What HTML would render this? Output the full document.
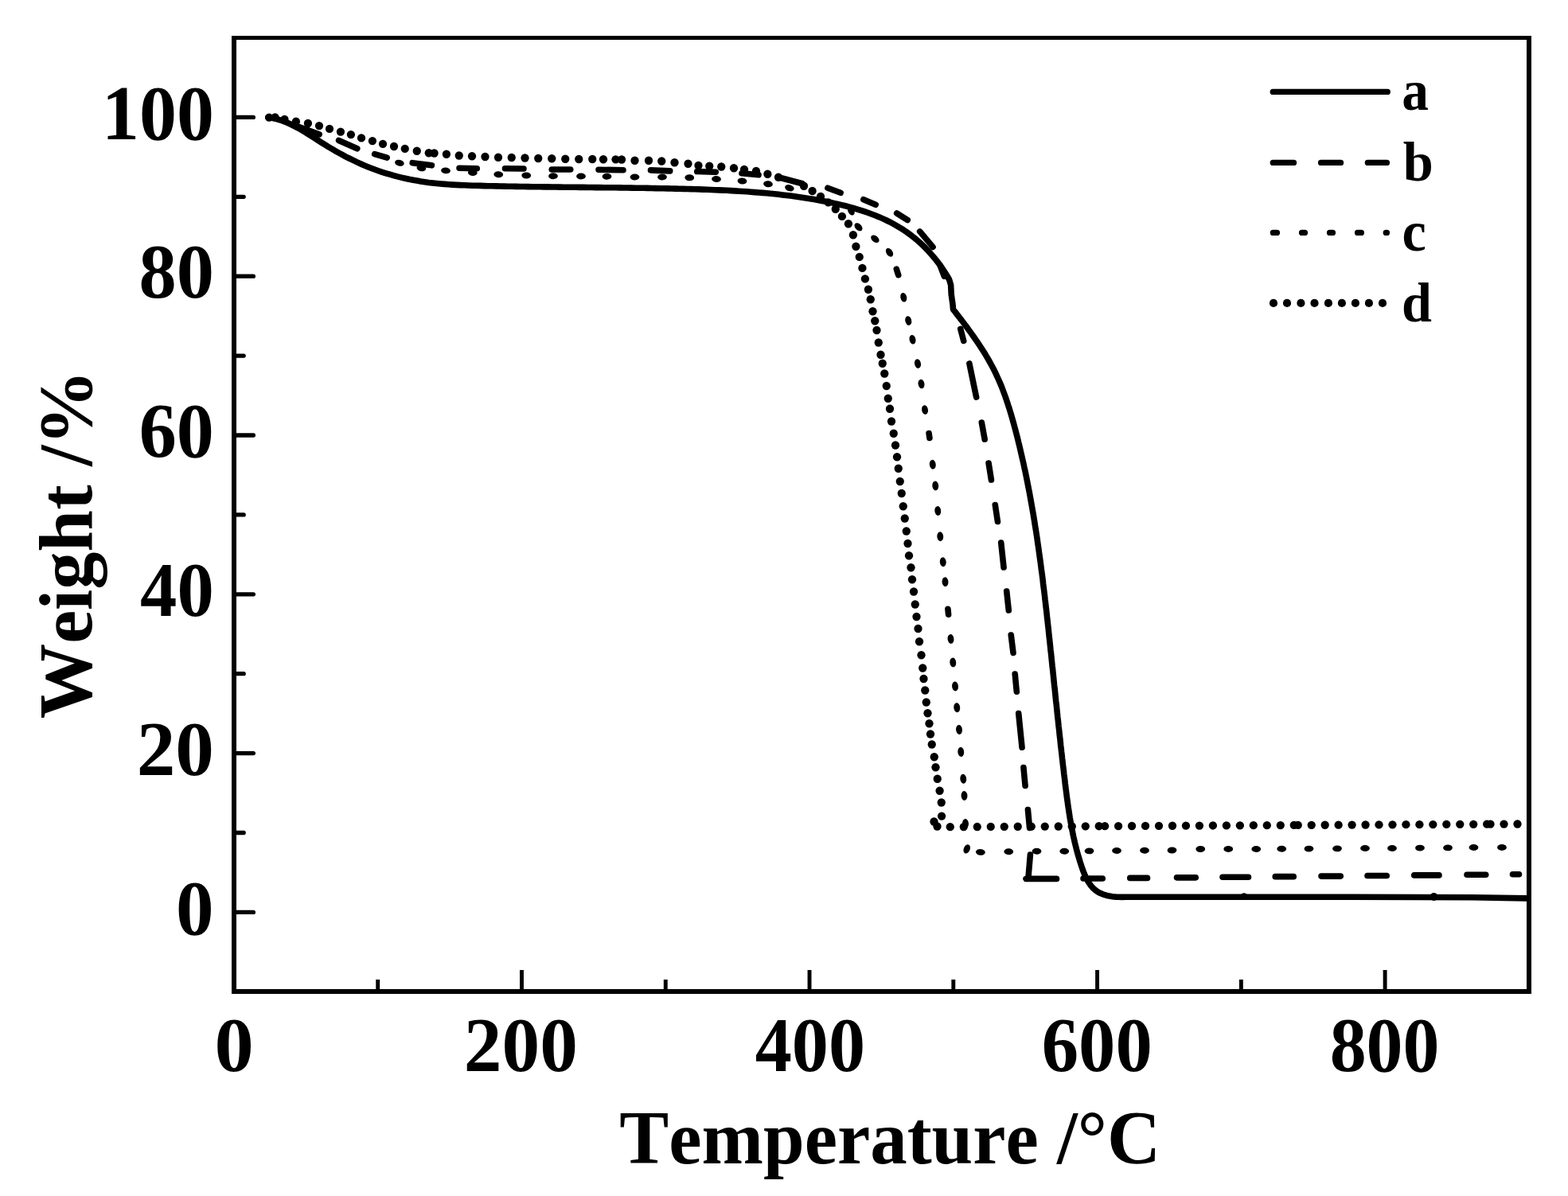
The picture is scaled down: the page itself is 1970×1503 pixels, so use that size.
<!DOCTYPE html>
<html lang="en">
<head>
<meta charset="utf-8">
<title>TG curves</title>
<style>
html,body{margin:0;padding:0;background:#fff;}
body{width:1970px;height:1503px;overflow:hidden;}
svg{display:block;}
text{font-family:"Liberation Serif",serif;font-weight:bold;fill:#000;font-kerning:none;}
</style>
</head>
<body>
<svg width="1970" height="1503" viewBox="0 0 1970 1503">
<rect x="0" y="0" width="1970" height="1503" fill="#fff"/>
<g shape-rendering="crispEdges"><rect x="291" y="45" width="1632.6" height="4.9"/><rect x="291" y="1243" width="1633" height="5.7"/><rect x="291" y="45" width="5.9" height="1203.7"/><rect x="1917.9" y="46.6" width="6.1" height="1202.1"/></g>
<path d="M474.72 1245.9 V1231.0 M655.49 1245.9 V1219.0 M836.26 1245.9 V1231.0 M1017.03 1245.9 V1219.0 M1197.80 1245.9 V1231.0 M1378.57 1245.9 V1219.0 M1559.34 1245.9 V1231.0 M1740.11 1245.9 V1219.0" fill="none" stroke="#000" stroke-width="4.9" stroke-linecap="butt"/>
<path d="M293.95 1146.40 H318.4 M293.95 1046.50 H306.2 M293.95 946.60 H318.4 M293.95 846.70 H306.2 M293.95 746.80 H318.4 M293.95 646.90 H306.2 M293.95 547.00 H318.4 M293.95 447.10 H306.2 M293.95 347.20 H318.4 M293.95 247.30 H306.2 M293.95 147.40 H318.4" fill="none" stroke="#000" stroke-width="5.3" stroke-linecap="round"/>
<path d="M336.9 147.5 L341.9 148.3 L346.9 149.4 L351.7 150.8 L356.4 152.5 L361.0 154.3 L365.5 156.3 L369.9 158.5 L374.3 160.8 L378.6 163.3 L382.9 165.8 L387.1 168.4 L391.3 171.1 L395.6 173.8 L399.8 176.5 L404.0 179.2 L408.2 181.8 L412.5 184.5 L416.8 187.0 L421.1 189.6 L425.5 192.0 L429.9 194.4 L434.3 196.8 L438.7 199.0 L443.2 201.2 L447.7 203.4 L452.3 205.5 L456.8 207.5 L461.5 209.4 L466.1 211.2 L470.8 213.0 L475.5 214.7 L480.2 216.3 L485.0 217.8 L489.8 219.2 L494.6 220.6 L499.4 221.9 L504.3 223.1 L509.2 224.2 L514.0 225.3 L519.0 226.2 L523.9 227.1 L528.8 228.0 L533.8 228.7 L538.7 229.4 L543.7 230.0 L548.6 230.5 L553.6 231.0 L558.6 231.4 L563.5 231.8 L568.5 232.1 L573.5 232.4 L578.5 232.6 L583.5 232.8 L588.5 233.0 L593.5 233.2 L598.5 233.3 L603.5 233.4 L608.5 233.6 L613.5 233.7 L618.5 233.8 L623.5 233.9 L628.5 234.0 L633.5 234.1 L638.5 234.2 L643.5 234.3 L648.5 234.4 L653.5 234.5 L658.5 234.5 L663.5 234.6 L668.5 234.7 L673.5 234.7 L678.5 234.8 L683.5 234.9 L688.5 234.9 L693.5 235.0 L698.5 235.0 L703.5 235.1 L708.5 235.2 L713.5 235.2 L718.5 235.3 L723.5 235.3 L728.5 235.4 L733.5 235.4 L738.5 235.5 L743.6 235.5 L748.6 235.6 L753.6 235.6 L758.6 235.7 L763.6 235.7 L768.6 235.8 L773.6 235.8 L778.6 235.9 L783.6 236.0 L788.6 236.0 L793.6 236.1 L798.6 236.2 L803.6 236.2 L808.6 236.3 L813.6 236.4 L818.6 236.5 L823.6 236.6 L828.6 236.7 L833.6 236.8 L838.6 236.9 L843.6 237.0 L848.6 237.1 L853.6 237.2 L858.6 237.4 L863.6 237.5 L868.6 237.6 L873.5 237.8 L878.5 237.9 L883.5 238.1 L888.5 238.3 L893.5 238.5 L898.5 238.7 L903.5 238.9 L908.5 239.1 L913.5 239.3 L918.5 239.6 L923.4 239.9 L928.4 240.2 L933.4 240.5 L938.4 240.8 L943.4 241.2 L948.3 241.6 L953.3 242.0 L958.3 242.4 L963.3 242.8 L968.2 243.3 L973.2 243.8 L978.2 244.3 L983.1 244.9 L988.1 245.5 L993.1 246.1 L998.0 246.8 L1003.0 247.5 L1007.9 248.2 L1012.9 249.0 L1017.8 249.8 L1022.8 250.6 L1027.7 251.5 L1032.7 252.4 L1037.6 253.3 L1042.5 254.3 L1047.5 255.4 L1052.4 256.5 L1057.3 257.6 L1062.2 258.8 L1067.1 260.1 L1071.9 261.4 L1076.7 262.8 L1081.5 264.3 L1086.3 265.9 L1091.0 267.5 L1095.6 269.2 L1100.3 271.0 L1104.9 272.9 L1109.4 274.9 L1113.9 277.0 L1118.3 279.2 L1122.7 281.5 L1127.0 284.0 L1131.2 286.5 L1135.4 289.1 L1139.5 291.9 L1143.5 294.8 L1147.5 297.9 L1151.3 301.0 L1155.1 304.3 L1158.8 307.8 L1162.4 311.3 L1165.9 314.9 L1169.3 318.7 L1172.6 322.5 L1175.8 326.4 L1178.9 330.4 L1181.9 334.4 L1184.7 338.6 L1187.5 342.8 L1190.1 347.0 L1192.5 351.2 L1194.6 358.0 L1195.2 370.0 L1197.0 382.5 L1197.5 388.8 L1200.0 391.9 L1202.4 395.1 L1204.8 398.2 L1207.3 401.4 L1209.7 404.5 L1212.1 407.7 L1214.5 410.9 L1216.9 414.2 L1219.2 417.4 L1221.6 420.7 L1223.9 424.0 L1226.2 427.3 L1228.5 430.6 L1230.7 434.0 L1232.9 437.3 L1235.1 440.7 L1237.2 444.1 L1239.3 447.6 L1241.3 451.0 L1243.3 454.5 L1245.2 458.0 L1247.1 461.6 L1249.0 465.1 L1250.7 468.7 L1252.4 472.3 L1254.1 476.0 L1255.7 479.6 L1257.3 483.3 L1258.8 487.0 L1260.2 490.8 L1261.6 494.5 L1263.0 498.3 L1264.3 502.1 L1265.6 505.9 L1266.8 509.7 L1268.1 513.5 L1269.2 517.3 L1270.4 521.2 L1271.5 525.0 L1272.6 528.9 L1273.7 532.8 L1274.7 536.6 L1275.8 540.5 L1276.8 544.4 L1277.8 548.3 L1278.8 552.2 L1279.7 556.1 L1280.7 560.0 L1281.6 563.9 L1282.5 567.8 L1283.4 571.7 L1284.3 575.6 L1285.2 579.5 L1286.1 583.4 L1286.9 587.3 L1287.8 591.2 L1288.6 595.1 L1289.4 599.0 L1290.2 603.0 L1291.0 606.9 L1291.7 610.8 L1292.5 614.7 L1293.3 618.7 L1294.0 622.6 L1294.7 626.5 L1295.4 630.5 L1296.1 634.4 L1296.8 638.4 L1297.5 642.3 L1298.2 646.2 L1298.8 650.2 L1299.5 654.1 L1300.1 658.1 L1300.7 662.0 L1301.4 666.0 L1302.0 670.0 L1302.6 673.9 L1303.2 677.9 L1303.7 681.8 L1304.3 685.8 L1304.9 689.8 L1305.4 693.7 L1306.0 697.7 L1306.5 701.7 L1307.1 705.6 L1307.6 709.6 L1308.1 713.6 L1308.6 717.5 L1309.2 721.5 L1309.7 725.5 L1310.2 729.5 L1310.6 733.5 L1311.1 737.4 L1311.6 741.4 L1312.1 745.4 L1312.6 749.4 L1313.0 753.4 L1313.5 757.4 L1313.9 761.3 L1314.4 765.3 L1314.9 769.3 L1315.3 773.3 L1315.7 777.3 L1316.2 781.3 L1316.6 785.3 L1317.1 789.3 L1317.5 793.3 L1317.9 797.3 L1318.3 801.3 L1318.8 805.3 L1319.2 809.2 L1319.6 813.2 L1320.0 817.2 L1320.5 821.2 L1320.9 825.2 L1321.3 829.2 L1321.7 833.2 L1322.1 837.2 L1322.6 841.2 L1323.0 845.2 L1323.4 849.2 L1323.8 853.2 L1324.2 857.2 L1324.6 861.2 L1325.1 865.2 L1325.5 869.2 L1325.9 873.2 L1326.3 877.2 L1326.7 881.2 L1327.2 885.2 L1327.6 889.2 L1328.0 893.2 L1328.4 897.2 L1328.8 901.2 L1329.3 905.1 L1329.7 909.1 L1330.1 913.1 L1330.6 917.1 L1331.0 921.1 L1331.4 925.1 L1331.9 929.0 L1332.3 933.0 L1332.7 937.0 L1333.2 941.0 L1333.6 944.9 L1334.1 948.9 L1334.5 952.9 L1335.0 956.8 L1335.4 960.8 L1335.9 964.7 L1336.4 968.7 L1336.8 972.6 L1337.3 976.6 L1337.8 980.5 L1338.2 984.5 L1338.7 988.4 L1339.2 992.4 L1339.7 996.3 L1340.2 1000.2 L1340.7 1004.2 L1341.3 1008.1 L1341.8 1012.0 L1342.4 1016.0 L1343.0 1019.9 L1343.6 1023.8 L1344.2 1027.8 L1344.9 1031.7 L1345.6 1035.6 L1346.3 1039.6 L1347.1 1043.5 L1347.9 1047.5 L1348.7 1051.5 L1349.6 1055.4 L1350.5 1059.4 L1351.5 1063.4 L1352.5 1067.4 L1353.6 1071.4 L1354.7 1075.4 L1355.9 1079.4 L1357.1 1083.4 L1358.4 1087.4 L1359.8 1091.5 L1361.2 1095.4 L1362.8 1099.3 L1364.5 1103.1 L1366.4 1106.7 L1368.5 1110.1 L1370.8 1113.2 L1373.4 1116.1 L1376.2 1118.6 L1379.3 1120.8 L1382.6 1122.6 L1386.2 1124.1 L1390.0 1125.2 L1393.9 1126.1 L1397.8 1126.7 L1401.9 1127.1 L1405.9 1127.3 L1409.9 1127.4 L1413.9 1127.3 L1418.0 1127.2 L1422.0 1127.2 L1426.0 1127.2 L1430.0 1127.2 L1434.0 1127.2 L1438.0 1127.2 L1442.0 1127.3 L1446.0 1127.3 L1450.0 1127.2 L1700.0 1127.3 L1850.0 1127.8 L1917.5 1128.9" fill="none" stroke="#000" stroke-width="7.6" stroke-linejoin="round" stroke-linecap="round"/>
<circle cx="1563" cy="1126.5" r="4.3"/><circle cx="1801.5" cy="1127" r="5"/>
<path d="M373.87 158.70 L401.13 168.90 M425.58 176.41 L448.77 186.69 M470.67 193.66 L486.18 198.19 M518.23 204.66 L542.42 207.84 M577.00 211.29 L599.25 211.71 M634.50 211.77 L658.00 211.98 M693.25 213.00 L716.75 213.00 M752.00 213.28 L783.00 213.72 M817.50 213.84 L841.75 214.91 M875.75 215.55 L899.25 216.20 M931.99 217.70 L953.01 219.80 M979.93 223.26 L1008.07 230.74 M1039.88 236.29 L1056.12 242.31 M1084.84 250.78 L1100.16 257.22 M1126.69 267.96 L1140.21 276.44 M1155.69 290.93 L1172.01 310.37 M1181.21 333.87 L1186.29 347.13 M1206.80 413.44 L1210.70 428.36 M1217.90 456.96 L1226.60 499.04 M1233.35 530.97 L1237.15 552.03 M1242.07 581.97 L1245.43 603.03 M1250.30 634.48 L1253.45 655.52 M1257.71 681.99 L1261.04 713.01 M1264.71 742.99 L1267.29 767.01 M1270.24 797.99 L1273.01 820.51 M1275.19 846.99 L1277.31 869.26 M1279.70 896.49 L1284.05 939.26 M1285.93 964.49 L1288.07 987.51 M1291.44 1017.59 L1293.56 1040.51 M1294.4 1074 L1291.9 1103.5 L1289 1104.4 L1327.5 1104.4 M1361.00 1103.98 H1385.25 M1419.75 1103.42 H1441.50 M1478.50 1102.84 H1502.25 M1536.00 1102.24 H1568.50 M1602.25 1101.65 H1625.25 M1660.00 1101.08 H1684.25 M1718.00 1100.52 H1742.25 M1776.75 1099.91 H1808.00 M1843.00 1099.30 H1866.75 M1900.50 1098.82 H1908.50" fill="none" stroke="#000" stroke-width="7.6" stroke-linejoin="round" stroke-linecap="round"/>
<path d="M1126.30 338.08 L1128.70 345.72 M1167.08 544.53 L1167.92 550.47 M1190.91 765.27 L1191.59 772.23" fill="none" stroke="#000" stroke-width="7.6" stroke-linecap="round"/>
<g><ellipse cx="501.90" cy="204.75" rx="5.9" ry="3.95" transform="rotate(13.3 501.90 204.75)"/><ellipse cx="529.40" cy="211.25" rx="5.9" ry="3.95" transform="rotate(9.4 529.40 211.25)"/><ellipse cx="560.00" cy="214.40" rx="5.9" ry="3.95" transform="rotate(5.1 560.00 214.40)"/><ellipse cx="593.75" cy="217.00" rx="5.9" ry="3.95" transform="rotate(4.2 593.75 217.00)"/><ellipse cx="626.25" cy="219.25" rx="5.9" ry="3.95" transform="rotate(3.0 626.25 219.25)"/><ellipse cx="661.25" cy="220.50" rx="5.9" ry="3.95" transform="rotate(1.7 661.25 220.50)"/><ellipse cx="695.00" cy="221.25" rx="5.9" ry="3.95" transform="rotate(0.8 695.00 221.25)"/><ellipse cx="730.00" cy="221.50" rx="5.9" ry="3.95" transform="rotate(0.4 730.00 221.50)"/><ellipse cx="762.50" cy="221.75" rx="5.9" ry="3.95" transform="rotate(0.8 762.50 221.75)"/><ellipse cx="797.50" cy="222.50" rx="5.9" ry="3.95" transform="rotate(0.6 797.50 222.50)"/><ellipse cx="832.00" cy="222.50" rx="5.9" ry="3.95" transform="rotate(0.6 832.00 222.50)"/><ellipse cx="866.25" cy="223.25" rx="5.9" ry="3.95" transform="rotate(2.1 866.25 223.25)"/><ellipse cx="900.00" cy="225.00" rx="5.9" ry="3.95" transform="rotate(3.7 900.00 225.00)"/><ellipse cx="932.50" cy="227.50" rx="5.9" ry="3.95" transform="rotate(5.5 932.50 227.50)"/><ellipse cx="965.00" cy="231.25" rx="5.9" ry="3.95" transform="rotate(8.4 965.00 231.25)"/><ellipse cx="991.90" cy="236.25" rx="5.9" ry="3.95" transform="rotate(17.9 991.90 236.25)"/><ellipse cx="1069.40" cy="265.00" rx="5.9" ry="3.95" transform="rotate(63.4 1069.40 265.00)"/><ellipse cx="1078.50" cy="285.25" rx="5.9" ry="3.95" transform="rotate(45.0 1078.50 285.25)"/><ellipse cx="1099.40" cy="300.25" rx="5.9" ry="3.95" transform="rotate(39.4 1099.40 300.25)"/><ellipse cx="1117.50" cy="317.25" rx="5.9" ry="3.95" transform="rotate(56.0 1117.50 317.25)"/><ellipse cx="1135.25" cy="373.75" rx="5.9" ry="3.95" transform="rotate(77.3 1135.25 373.75)"/><ellipse cx="1141.25" cy="403.00" rx="5.9" ry="3.95" transform="rotate(78.0 1141.25 403.00)"/><ellipse cx="1146.50" cy="426.75" rx="5.9" ry="3.95" transform="rotate(77.7 1146.50 426.75)"/><ellipse cx="1153.00" cy="457.00" rx="5.9" ry="3.95" transform="rotate(78.8 1153.00 457.00)"/><ellipse cx="1157.50" cy="482.50" rx="5.9" ry="3.95" transform="rotate(81.2 1157.50 482.50)"/><ellipse cx="1162.00" cy="515.00" rx="5.9" ry="3.95" transform="rotate(81.3 1162.00 515.00)"/><ellipse cx="1171.75" cy="583.75" rx="5.9" ry="3.95" transform="rotate(83.0 1171.75 583.75)"/><ellipse cx="1175.25" cy="610.50" rx="5.9" ry="3.95" transform="rotate(83.6 1175.25 610.50)"/><ellipse cx="1178.25" cy="642.00" rx="5.9" ry="3.95" transform="rotate(84.6 1178.25 642.00)"/><ellipse cx="1181.25" cy="674.25" rx="5.9" ry="3.95" transform="rotate(84.2 1181.25 674.25)"/><ellipse cx="1184.75" cy="706.25" rx="5.9" ry="3.95" transform="rotate(83.7 1184.75 706.25)"/><ellipse cx="1187.50" cy="731.25" rx="5.9" ry="3.95" transform="rotate(84.1 1187.50 731.25)"/><ellipse cx="1194.50" cy="803.00" rx="5.9" ry="3.95" transform="rotate(84.6 1194.50 803.00)"/><ellipse cx="1197.25" cy="832.50" rx="5.9" ry="3.95" transform="rotate(84.7 1197.25 832.50)"/><ellipse cx="1200.00" cy="862.50" rx="5.9" ry="3.95" transform="rotate(85.0 1200.00 862.50)"/><ellipse cx="1202.25" cy="889.25" rx="5.9" ry="3.95" transform="rotate(84.8 1202.25 889.25)"/><ellipse cx="1205.00" cy="917.00" rx="5.9" ry="3.95" transform="rotate(84.9 1205.00 917.00)"/><ellipse cx="1207.25" cy="945.00" rx="5.9" ry="3.95" transform="rotate(85.1 1207.25 945.00)"/><ellipse cx="1210.25" cy="978.75" rx="5.9" ry="3.95" transform="rotate(85.6 1210.25 978.75)"/><ellipse cx="1211.50" cy="1000.00" rx="5.9" ry="3.95" transform="rotate(87.2 1211.50 1000.00)"/><ellipse cx="1213.00" cy="1035.00" rx="5.9" ry="3.95" transform="rotate(84.3 1213.00 1035.00)"/><ellipse cx="1214.75" cy="1066.90" rx="5.9" ry="3.95" transform="rotate(-68.2 1214.75 1066.90)"/><ellipse cx="1231.90" cy="1070.90" rx="5.9" ry="3.95" transform="rotate(3.7 1231.90 1070.90)"/><ellipse cx="1267.25" cy="1070.25" rx="5.9" ry="3.95" transform="rotate(-0.9 1267.25 1070.25)"/><ellipse cx="1302.50" cy="1069.75" rx="5.9" ry="3.95" transform="rotate(-0.4 1302.50 1069.75)"/><ellipse cx="1337.25" cy="1069.75" rx="5.9" ry="3.95" transform="rotate(-0.3 1337.25 1069.75)"/><ellipse cx="1368.50" cy="1069.40" rx="5.9" ry="3.95" transform="rotate(-0.7 1368.50 1069.40)"/><ellipse cx="1403.00" cy="1069.00" rx="5.9" ry="3.95" transform="rotate(-0.5 1403.00 1069.00)"/><ellipse cx="1438.00" cy="1068.75" rx="5.9" ry="3.95" transform="rotate(-0.4 1438.00 1068.75)"/><ellipse cx="1472.50" cy="1068.50" rx="5.9" ry="3.95" transform="rotate(-1.4 1472.50 1068.50)"/><ellipse cx="1508.25" cy="1067.00" rx="5.9" ry="3.95" transform="rotate(-1.2 1508.25 1067.00)"/><ellipse cx="1543.25" cy="1067.00" rx="5.9" ry="3.95" transform="rotate(0.0 1543.25 1067.00)"/><ellipse cx="1578.25" cy="1067.00" rx="5.9" ry="3.95" transform="rotate(-0.2 1578.25 1067.00)"/><ellipse cx="1610.25" cy="1066.80" rx="5.9" ry="3.95" transform="rotate(-0.3 1610.25 1066.80)"/><ellipse cx="1644.50" cy="1066.60" rx="5.9" ry="3.95" transform="rotate(-0.3 1644.50 1066.60)"/><ellipse cx="1680.00" cy="1066.40" rx="5.9" ry="3.95" transform="rotate(-0.5 1680.00 1066.40)"/><ellipse cx="1715.00" cy="1066.00" rx="5.9" ry="3.95" transform="rotate(-0.3 1715.00 1066.00)"/><ellipse cx="1749.00" cy="1066.00" rx="5.9" ry="3.95" transform="rotate(-0.3 1749.00 1066.00)"/><ellipse cx="1784.00" cy="1065.60" rx="5.9" ry="3.95" transform="rotate(-0.5 1784.00 1065.60)"/><ellipse cx="1819.00" cy="1065.40" rx="5.9" ry="3.95" transform="rotate(-0.5 1819.00 1065.40)"/><ellipse cx="1851.50" cy="1065.00" rx="5.9" ry="3.95" transform="rotate(-0.3 1851.50 1065.00)"/><ellipse cx="1887.00" cy="1065.00" rx="5.9" ry="3.95" transform="rotate(0.0 1887.00 1065.00)"/></g>
<g><circle cx="338.10" cy="147.60" r="5.15"/><circle cx="345.60" cy="147.30" r="5.15"/><circle cx="357.50" cy="150.00" r="5.15"/><circle cx="371.90" cy="152.75" r="5.15"/><circle cx="386.90" cy="155.00" r="5.15"/><circle cx="401.00" cy="158.10" r="5.15"/><circle cx="414.00" cy="161.90" r="5.15"/><circle cx="427.90" cy="165.60" r="5.15"/><circle cx="440.90" cy="169.10" r="5.15"/><circle cx="454.00" cy="173.40" r="5.15"/><circle cx="467.90" cy="177.10" r="5.15"/><circle cx="481.00" cy="180.90" r="5.15"/><circle cx="495.00" cy="184.00" r="5.15"/><circle cx="508.75" cy="186.90" r="5.15"/><circle cx="523.75" cy="189.75" r="5.15"/><circle cx="538.75" cy="192.25" r="5.15"/><circle cx="545.60" cy="192.50" r="5.15"/><circle cx="560.90" cy="193.75" r="5.15"/><circle cx="576.75" cy="195.50" r="5.15"/><circle cx="593.00" cy="196.25" r="5.15"/><circle cx="609.50" cy="197.00" r="5.15"/><circle cx="626.00" cy="197.75" r="5.15"/><circle cx="642.75" cy="198.00" r="5.15"/><circle cx="659.50" cy="198.50" r="5.15"/><circle cx="676.25" cy="199.00" r="5.15"/><circle cx="693.25" cy="199.25" r="5.15"/><circle cx="710.25" cy="199.75" r="5.15"/><circle cx="727.25" cy="200.00" r="5.15"/><circle cx="744.25" cy="200.00" r="5.15"/><circle cx="758.00" cy="200.25" r="5.15"/><circle cx="773.50" cy="200.30" r="5.15"/><circle cx="781.00" cy="200.50" r="5.15"/><circle cx="797.50" cy="201.75" r="5.15"/><circle cx="815.00" cy="201.75" r="5.15"/><circle cx="831.25" cy="202.50" r="5.15"/><circle cx="847.50" cy="204.25" r="5.15"/><circle cx="864.50" cy="205.75" r="5.15"/><circle cx="877.50" cy="208.00" r="5.15"/><circle cx="891.25" cy="208.75" r="5.15"/><circle cx="906.25" cy="209.50" r="5.15"/><circle cx="922.00" cy="211.25" r="5.15"/><circle cx="935.00" cy="213.00" r="5.15"/><circle cx="950.00" cy="215.00" r="5.15"/><circle cx="964.40" cy="218.75" r="5.15"/><circle cx="978.00" cy="222.75" r="5.15"/><circle cx="1010.00" cy="233.75" r="5.15"/><circle cx="1020.60" cy="240.00" r="5.15"/><circle cx="1031.00" cy="247.00" r="5.15"/><circle cx="1040.60" cy="254.40" r="5.15"/><circle cx="1049.75" cy="262.75" r="5.15"/><circle cx="1057.90" cy="271.90" r="5.15"/><circle cx="1065.90" cy="281.25" r="5.15"/><circle cx="1071.90" cy="295.25" r="5.15"/><circle cx="1075.40" cy="309.75" r="5.15"/><circle cx="1079.75" cy="322.90" r="5.15"/><circle cx="1083.40" cy="336.90" r="5.15"/><circle cx="1086.90" cy="350.40" r="5.15"/><circle cx="1090.90" cy="363.75" r="5.15"/><circle cx="1093.75" cy="376.25" r="5.15"/><circle cx="1096.50" cy="391.25" r="5.15"/><circle cx="1099.25" cy="403.25" r="5.15"/><circle cx="1101.50" cy="415.00" r="5.15"/><circle cx="1103.75" cy="430.50" r="5.15"/><circle cx="1106.50" cy="445.75" r="5.15"/><circle cx="1108.75" cy="456.75" r="5.15"/><circle cx="1111.25" cy="469.50" r="5.15"/><circle cx="1113.75" cy="485.00" r="5.15"/><circle cx="1115.75" cy="500.75" r="5.15"/><circle cx="1118.00" cy="513.75" r="5.15"/><circle cx="1120.00" cy="529.50" r="5.15"/><circle cx="1122.75" cy="544.75" r="5.15"/><circle cx="1125.00" cy="559.50" r="5.15"/><circle cx="1127.00" cy="574.25" r="5.15"/><circle cx="1128.75" cy="588.75" r="5.15"/><circle cx="1130.75" cy="605.00" r="5.15"/><circle cx="1132.75" cy="620.00" r="5.15"/><circle cx="1134.75" cy="636.25" r="5.15"/><circle cx="1136.75" cy="651.50" r="5.15"/><circle cx="1138.75" cy="667.50" r="5.15"/><circle cx="1140.50" cy="683.00" r="5.15"/><circle cx="1142.00" cy="698.25" r="5.15"/><circle cx="1144.50" cy="713.25" r="5.15"/><circle cx="1146.00" cy="728.25" r="5.15"/><circle cx="1148.00" cy="743.50" r="5.15"/><circle cx="1149.75" cy="759.50" r="5.15"/><circle cx="1151.50" cy="775.00" r="5.15"/><circle cx="1153.50" cy="790.00" r="5.15"/><circle cx="1155.00" cy="806.25" r="5.15"/><circle cx="1157.50" cy="823.25" r="5.15"/><circle cx="1159.25" cy="839.50" r="5.15"/><circle cx="1160.50" cy="853.00" r="5.15"/><circle cx="1162.25" cy="867.50" r="5.15"/><circle cx="1163.75" cy="882.50" r="5.15"/><circle cx="1165.50" cy="896.25" r="5.15"/><circle cx="1167.50" cy="909.25" r="5.15"/><circle cx="1169.00" cy="922.50" r="5.15"/><circle cx="1170.75" cy="935.50" r="5.15"/><circle cx="1173.75" cy="951.25" r="5.15"/><circle cx="1175.50" cy="964.25" r="5.15"/><circle cx="1177.75" cy="978.75" r="5.15"/><circle cx="1180.60" cy="993.75" r="5.15"/><circle cx="1182.75" cy="1008.50" r="5.15"/><circle cx="1183.10" cy="1025.60" r="5.15"/><circle cx="1173.50" cy="1032.50" r="5.15"/><circle cx="1177.50" cy="1038.50" r="5.15"/><circle cx="1193.75" cy="1039.20" r="5.15"/><circle cx="1210.75" cy="1039.11" r="5.15"/><circle cx="1227.75" cy="1039.02" r="5.15"/><circle cx="1244.75" cy="1038.93" r="5.15"/><circle cx="1261.75" cy="1038.85" r="5.15"/><circle cx="1278.75" cy="1038.76" r="5.15"/><circle cx="1295.75" cy="1038.67" r="5.15"/><circle cx="1312.75" cy="1038.58" r="5.15"/><circle cx="1329.75" cy="1038.49" r="5.15"/><circle cx="1346.75" cy="1038.40" r="5.15"/><circle cx="1363.75" cy="1038.32" r="5.15"/><circle cx="1380.75" cy="1038.23" r="5.15"/><circle cx="1388.10" cy="1038.19" r="5.15"/><circle cx="1405.07" cy="1038.10" r="5.15"/><circle cx="1422.05" cy="1038.01" r="5.15"/><circle cx="1439.02" cy="1037.92" r="5.15"/><circle cx="1456.00" cy="1037.84" r="5.15"/><circle cx="1472.97" cy="1037.75" r="5.15"/><circle cx="1489.95" cy="1037.66" r="5.15"/><circle cx="1506.92" cy="1037.57" r="5.15"/><circle cx="1523.90" cy="1037.48" r="5.15"/><circle cx="1540.88" cy="1037.39" r="5.15"/><circle cx="1557.85" cy="1037.31" r="5.15"/><circle cx="1574.82" cy="1037.22" r="5.15"/><circle cx="1591.80" cy="1037.13" r="5.15"/><circle cx="1608.77" cy="1037.04" r="5.15"/><circle cx="1625.75" cy="1036.95" r="5.15"/><circle cx="1630.75" cy="1036.93" r="5.15"/><circle cx="1647.71" cy="1036.84" r="5.15"/><circle cx="1664.67" cy="1036.75" r="5.15"/><circle cx="1681.63" cy="1036.66" r="5.15"/><circle cx="1698.59" cy="1036.57" r="5.15"/><circle cx="1715.55" cy="1036.49" r="5.15"/><circle cx="1732.51" cy="1036.40" r="5.15"/><circle cx="1749.47" cy="1036.31" r="5.15"/><circle cx="1766.43" cy="1036.22" r="5.15"/><circle cx="1783.39" cy="1036.13" r="5.15"/><circle cx="1800.35" cy="1036.05" r="5.15"/><circle cx="1817.31" cy="1035.96" r="5.15"/><circle cx="1834.27" cy="1035.87" r="5.15"/><circle cx="1851.23" cy="1035.78" r="5.15"/><circle cx="1868.19" cy="1035.69" r="5.15"/><circle cx="1872.50" cy="1035.67" r="5.15"/><circle cx="1889.50" cy="1035.58" r="5.15"/><circle cx="1906.50" cy="1035.49" r="5.15"/></g>
<path d="M1599.2 115.4 H1743.3" stroke="#000" stroke-width="7.2" stroke-linecap="round" fill="none"/>
<path d="M1599.3 204.4 H1625.5 M1659.6 204.4 H1684.5 M1718.4 204.4 H1742.4" stroke="#000" stroke-width="7.4" stroke-linecap="round" fill="none"/>
<path d="M1599.4 292.4 H1604.4 M1635.6 292.4 H1639.4 M1670.6 292.4 H1674.4 M1705.6 292.4 H1710.3 M1741.3 292.4 H1742.4" stroke="#000" stroke-width="7.4" stroke-linecap="round" fill="none"/>
<g><circle cx="1600" cy="380.9" r="5.1"/><circle cx="1617" cy="380.9" r="5.1"/><circle cx="1634.4" cy="380.9" r="5.1"/><circle cx="1651.5" cy="380.9" r="5.1"/><circle cx="1668.9" cy="380.9" r="5.1"/><circle cx="1685.9" cy="380.9" r="5.1"/><circle cx="1702.9" cy="380.9" r="5.1"/><circle cx="1719.9" cy="380.9" r="5.1"/><circle cx="1737" cy="380.9" r="5.1"/></g>
<text transform="translate(269.53 1345.60) scale(0.9849 0.9720)" font-size="100">0</text>
<text transform="translate(582.87 1345.60) scale(0.9536 0.9720)" font-size="100">200</text>
<text transform="translate(948.72 1345.60) scale(0.9221 0.9720)" font-size="100">400</text>
<text transform="translate(1308.70 1345.60) scale(0.9270 0.9720)" font-size="100">600</text>
<text transform="translate(1670.65 1345.60) scale(0.9191 0.9720)" font-size="100">800</text>
<text transform="translate(128.07 174.50) scale(0.9385 0.9720)" font-size="100">100</text>
<text transform="translate(174.42 374.30) scale(0.9445 0.9720)" font-size="100">80</text>
<text transform="translate(174.76 574.10) scale(0.9410 0.9720)" font-size="100">60</text>
<text transform="translate(176.11 773.90) scale(0.9269 0.9720)" font-size="100">40</text>
<text transform="translate(171.69 973.70) scale(0.9729 0.9720)" font-size="100">20</text>
<text transform="translate(221.11 1173.50) scale(0.9507 0.9720)" font-size="100">0</text>
<text transform="translate(778.34 1462.20) scale(0.9295 0.9605)" font-size="100">Temperature /°C</text>
<text transform="translate(115.30 903.36) rotate(-90) scale(0.9451 0.9450)" font-size="100">Weight /%</text>
<text transform="translate(1761.30 138.38) scale(0.6747 0.7156)" font-size="100">a</text>
<text transform="translate(1762.87 227.39) scale(0.6838 0.7050)" font-size="100">b</text>
<text transform="translate(1761.39 315.29) scale(0.6834 0.7111)" font-size="100">c</text>
<text transform="translate(1760.97 404.29) scale(0.6814 0.7057)" font-size="100">d</text>
</svg>
</body>
</html>
